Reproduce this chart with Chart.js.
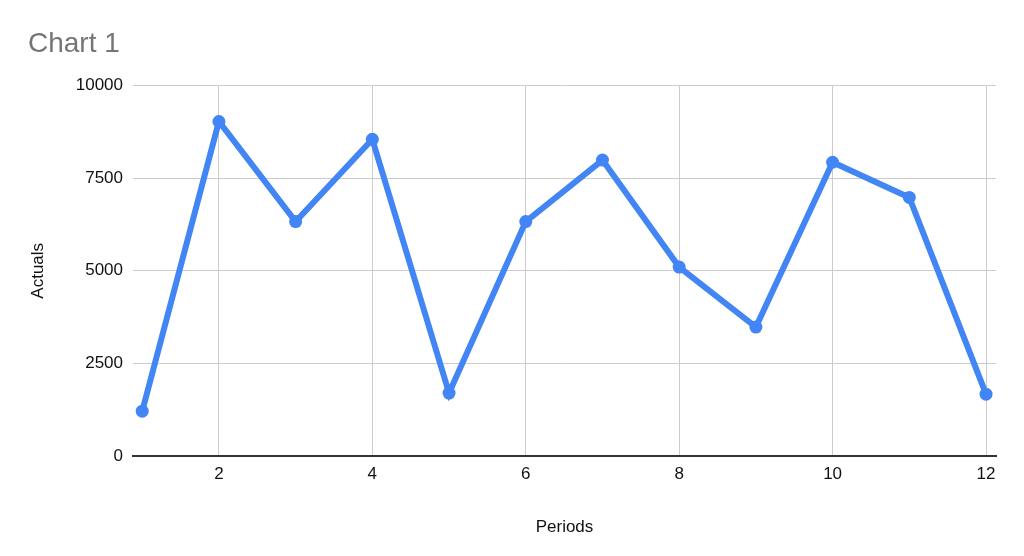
<!DOCTYPE html>
<html>
<head>
<meta charset="utf-8">
<script src="https://cdn.jsdelivr.net/npm/chart.js@4"></script>
<style>
  html, body { margin: 0; padding: 0; background: #fff; }
  #wrap { width: 1024px; height: 556px; }
</style>
</head>
<body>
<div id="wrap"><canvas id="chart" width="1024" height="556"></canvas></div>
<script>
// data
const periods = [1, 2, 3, 4, 5, 6, 7, 8, 9, 10, 11, 12];
const actuals = [1210, 9030, 6330, 8550, 1700, 6330, 7990, 5100, 3480, 7930, 6980, 1670];
const xTicks = [2, 4, 6, 8, 10, 12];
const yTicks = [0, 2500, 5000, 7500, 10000];

const points = periods.map((p, i) => ({ x: p, y: actuals[i] }));
const fontFamily = '"Liberation Sans", Arial, sans-serif';

const ctx = document.getElementById('chart').getContext('2d');
new Chart(ctx, {
    type: 'line',
    data: {
        datasets: [{
            label: 'Actuals',
            data: points,
            borderColor: '#4285F4',
            backgroundColor: '#4285F4',
            borderWidth: 6,
            pointRadius: 6.5,
            pointBorderWidth: 0,
            tension: 0
        }]
    },
    options: {
        responsive: false,
        animation: false,
        layout: { padding: { left: 28, right: 28, top: 14, bottom: 14 } },
        plugins: {
            legend: { display: false },
            tooltip: { enabled: false },
            title: {
                display: true,
                text: 'Chart 1',
                align: 'start',
                color: '#757575',
                font: { family: fontFamily, size: 28, weight: 'normal' },
                padding: { top: 13, bottom: 25 }
            }
        },
        scales: {
            x: {
                type: 'linear',
                min: 0.88,
                max: 12.13,
                afterBuildTicks: (scale) => {
                    scale.ticks = xTicks.map(v => ({ value: v }));
                },
                afterFit: (scale) => { scale.height = 86; },
                grid: { color: '#cccccc', lineWidth: 1, drawTicks: false },
                border: { display: true, color: '#333333', width: 2 },
                ticks: {
                    color: '#111',
                    font: { family: fontFamily, size: 17 },
                    padding: 8,
                    maxRotation: 0
                },
                title: {
                    display: true,
                    text: 'Periods',
                    color: '#111',
                    font: { family: fontFamily, size: 17 },
                    padding: { top: 17 }
                }
            },
            y: {
                min: 0,
                max: 10000,
                afterBuildTicks: (scale) => {
                    scale.ticks = yTicks.map(v => ({ value: v }));
                },
                afterFit: (scale) => { scale.width = 105; },
                grid: { color: '#cccccc', lineWidth: 1, drawTicks: false },
                border: { display: false },
                ticks: {
                    color: '#111',
                    font: { family: fontFamily, size: 17 },
                    padding: 10,
                    callback: (v) => String(v)
                },
                title: {
                    display: true,
                    text: 'Actuals',
                    color: '#111',
                    font: { family: fontFamily, size: 17 },
                    padding: 0
                }
            }
        }
    }
});
</script>
</body>
</html>
